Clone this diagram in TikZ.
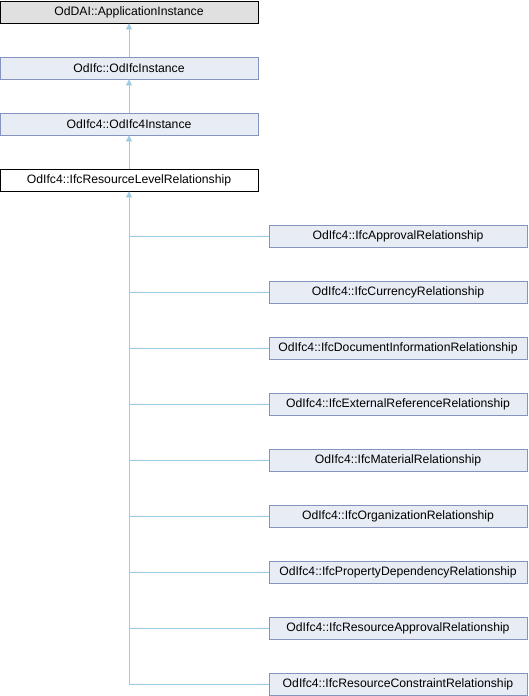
\documentclass[tikz,border=0pt]{standalone}
\usepackage{fontspec}
\setmainfont{Liberation Sans}
\usetikzlibrary{arrows.meta}
\definecolor{boxfill}{HTML}{E8ECF5}
\definecolor{boxdraw}{HTML}{8494BF}
\definecolor{topfill}{HTML}{E0E0E0}
\definecolor{linkc}{HTML}{9CCBE3}
\begin{document}
\begin{tikzpicture}[x=1pt,y=-1pt,
  cls/.style={draw=boxdraw,fill=boxfill,minimum width=258pt,minimum height=22pt,inner sep=0pt,font=\fontsize{12.2}{14}\selectfont,line width=0.8pt},
  topcls/.style={cls,draw=black,fill=topfill},
  curcls/.style={cls,draw=black,fill=white},
  inh/.style={draw=linkc,line width=0.8pt,-{Triangle[length=6pt,width=6pt,fill=linkc]}},
  ln/.style={draw=linkc,line width=0.8pt}]
\useasboundingbox (0,0) rectangle (528,696);
\node[topcls] (a) at (129,12) {OdDAI::ApplicationInstance};
\node[cls] (b) at (129,68) {OdIfc::OdIfcInstance};
\node[cls] (c) at (129,124) {OdIfc4::OdIfc4Instance};
\node[curcls] (d) at (129,180) {OdIfc4::IfcResourceLevelRelationship};
\draw[inh] (b) -- (a);
\draw[inh] (c) -- (b);
\draw[inh] (d) -- (c);
\foreach \n/\t [count=\i from 0] in {
 e1/OdIfc4::IfcApprovalRelationship,
 e2/OdIfc4::IfcCurrencyRelationship,
 e3/OdIfc4::IfcDocumentInformationRelationship,
 e4/OdIfc4::IfcExternalReferenceRelationship,
 e5/OdIfc4::IfcMaterialRelationship,
 e6/OdIfc4::IfcOrganizationRelationship,
 e7/OdIfc4::IfcPropertyDependencyRelationship,
 e8/OdIfc4::IfcResourceApprovalRelationship,
 e9/OdIfc4::IfcResourceConstraintRelationship}{
  \node[cls] (\n) at (398,236+56*\i) {\t};
}
\coordinate (j) at (129,684);
\draw[inh] (j) -- (d);
\foreach \n in {e1,e2,e3,e4,e5,e6,e7,e8,e9}{
  \draw[ln] (\n.west) -- (\n.west -| d.south);
}
\end{tikzpicture}
\end{document}
